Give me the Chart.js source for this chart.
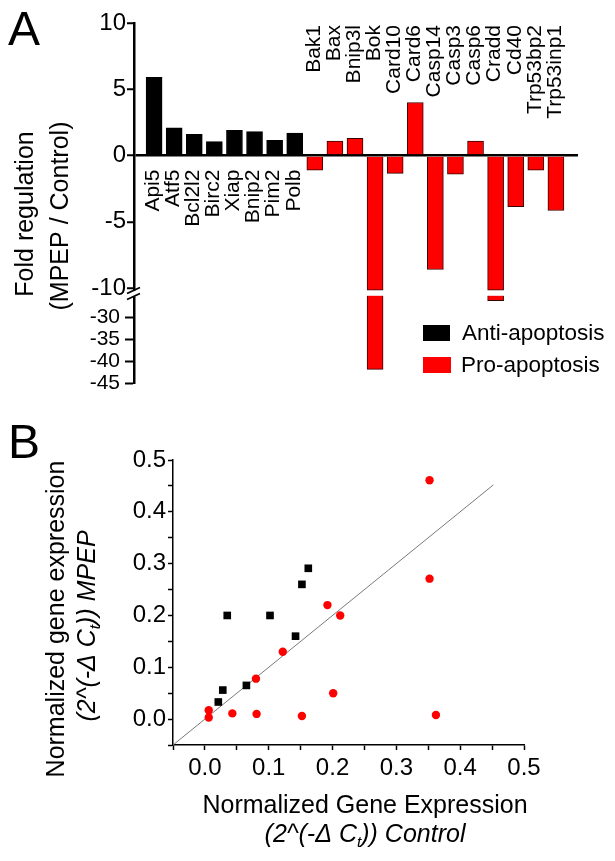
<!DOCTYPE html>
<html>
<head>
<meta charset="utf-8">
<script src="https://cdn.jsdelivr.net/npm/chart.js@4.4.0/dist/chart.umd.min.js"></script>
<style>
    html, body { margin: 0; padding: 0; background: #fff; }
    #wrapA { position: absolute; left: 0; top: 0;     width: 615px; height: 420px; }
    #wrapB { position: absolute; left: 0; top: 420px; width: 615px; height: 441px; }
</style>
</head>
<body>
<div id="wrapA"><canvas id="chartA"></canvas></div>
<div id="wrapB"><canvas id="chartB"></canvas></div>
<script>
// === DATA ===
const antiGenes = ['Api5', 'Atf5', 'Bcl2l2', 'Birc2', 'Xiap', 'Bnip2', 'Pim2', 'Polb'];
const antiFold  = [5.9, 2.1, 1.6, 1.05, 1.9, 1.8, 1.15, 1.7];
const proGenes  = ['Bak1', 'Bax', 'Bnip3l', 'Bok', 'Card10', 'Card6', 'Casp14', 'Casp3', 'Casp6', 'Cradd', 'Cd40', 'Trp53bp2', 'Trp53inp1'];
const proFold   = [-1.1, 1.1, 1.3, -41.9, -1.35, 4.0, -8.6, -1.4, 1.1, -26.2, -3.85, -1.1, -4.15];

const upperTicks = [10, 5, 0, -5, -10];
const lowerTicks = [-30, -35, -40, -45];

const antiControl = [0.021, 0.028, 0.035, 0.065, 0.102, 0.142, 0.152, 0.162];
const antiMpep    = [0.033, 0.056, 0.200, 0.065, 0.200, 0.160, 0.260, 0.291];
const proControl  = [0.006, 0.006, 0.043, 0.081, 0.152, 0.080, 0.122, 0.192, 0.212, 0.201, 0.352, 0.352, 0.362];
const proMpep     = [0.017, 0.003, 0.011, 0.010, 0.006, 0.078, 0.130, 0.220, 0.200, 0.050, 0.461, 0.271, 0.008];
const identityLine = [-0.05, 0.452];

const scatterMajor = [0.0, 0.1, 0.2, 0.3, 0.4, 0.5];
const scatterMinor = [-0.05, 0.05, 0.15, 0.25, 0.35, 0.45];

// broken axis: upper segment floor, lower segment ceiling
const BREAK_UPPER = -10.15;
const BREAK_LOWER = -25;

const FONT  = "'Liberation Sans', Arial, sans-serif";
const BLACK = '#000000';
const RED   = '#ff0000';

Chart.defaults.font.family = FONT;
Chart.defaults.color = BLACK;

const allGenes = antiGenes.concat(proGenes);

// === HELPERS ===
function drawRotated(ctx, text, x, y, align) {
    ctx.save();
    ctx.translate(x, y);
    ctx.rotate(-Math.PI / 2);
    ctx.textAlign = align || 'center';
    ctx.fillText(text, 0, 0);
    ctx.restore();
}

// text with a subscript part, all italic
function drawRich(ctx, parts, cx, cy, size, rotate) {
    const fontFor = p => `italic ${p.sub ? size * 0.62 : size}px ${FONT}`;
    ctx.save();
    ctx.translate(cx, cy);
    if (rotate) ctx.rotate(-Math.PI / 2);
    ctx.textAlign = 'left';
    ctx.textBaseline = 'middle';
    let total = 0;
    parts.forEach(p => { ctx.font = fontFor(p); total += ctx.measureText(p.t).width; });
    let pos = -total / 2;
    parts.forEach(p => {
        ctx.font = fontFor(p);
        ctx.fillText(p.t, pos, p.sub ? size * 0.32 : 0);
        pos += ctx.measureText(p.t).width;
    });
    ctx.restore();
}

// === PANEL A ===
const panelAExtras = {
    id: 'panelAExtras',
    afterDraw(chart) {
        const { ctx, chartArea, scales: { x, y, y2 } } = chart;
        ctx.save();
        ctx.fillStyle = BLACK;

        ctx.font = `48px ${FONT}`;
        ctx.textAlign = 'left';
        ctx.textBaseline = 'alphabetic';
        ctx.fillText('A', 8, 45);

        // gene names
        ctx.font = `21px ${FONT}`;
        ctx.textBaseline = 'middle';
        const zeroY = y.getPixelForValue(0);
        allGenes.forEach((name, i) => {
            const top = i < antiGenes.length ? zeroY + 14 : chartArea.top + 2;
            drawRotated(ctx, name, x.getPixelForValue(i) - 1, top, 'right');
        });

        // y title
        ctx.font = `25px ${FONT}`;
        drawRotated(ctx, 'Fold regulation', 26, 214);
        drawRotated(ctx, '(MPEP / Control)', 61, 216);

        // axis break
        const left = chartArea.left;
        const gapTop = y2.top - 5;
        const gapBot = y2.top + 1;
        ctx.fillStyle = '#fff';
        ctx.fillRect(left - 3, gapTop, 6, gapBot - gapTop);
        ctx.strokeStyle = BLACK;
        ctx.lineWidth = 1.8;
        ctx.beginPath();
        ctx.moveTo(left - 7, gapTop + 3); ctx.lineTo(left + 6, gapTop - 3);
        ctx.moveTo(left - 7, gapBot + 3); ctx.lineTo(left + 6, gapBot - 3);
        ctx.stroke();

        // legend
        ctx.fillStyle = BLACK;
        ctx.fillRect(423, 325, 27, 16);
        ctx.fillStyle = RED;
        ctx.fillRect(423, 357, 28, 16);
        ctx.fillStyle = BLACK;
        ctx.font = `22.5px ${FONT}`;
        ctx.textAlign = 'left';
        ctx.fillText('Anti-apoptosis', 462, 334);
        ctx.fillText('Pro-apoptosis', 461, 366);
        ctx.restore();
    },
};

const barBase = {
    type: 'bar',
    barThickness: 16,
    grouped: false,
    borderWidth: 1,
};

new Chart(document.getElementById('chartA').getContext('2d'), {
    type: 'bar',
    data: {
        datasets: [
            {
                ...barBase,
                label: 'Anti-apoptosis',
                data: antiFold.map((v, i) => ({ x: i, y: v })),
                backgroundColor: BLACK,
                borderColor: BLACK,
                yAxisID: 'y',
            },
            {
                ...barBase,
                label: 'Pro-apoptosis',
                data: proFold.map((v, i) => ({ x: antiGenes.length + i, y: Math.max(v, BREAK_UPPER) })),
                backgroundColor: RED,
                borderColor: '#3a0000',
                yAxisID: 'y',
            },
            {
                ...barBase,
                label: 'Pro-apoptosis (below break)',
                data: proFold.map((v, i) => ({ x: antiGenes.length + i, y: v < BREAK_UPPER ? v : null })),
                base: BREAK_LOWER,
                backgroundColor: RED,
                borderColor: '#3a0000',
                yAxisID: 'y2',
            },
        ],
    },
    options: {
        responsive: true,
        maintainAspectRatio: false,
        animation: false,
        layout: { padding: { top: 23, right: 37, bottom: 37, left: 0 } },
        plugins: { legend: { display: false }, tooltip: { enabled: false } },
        scales: {
            x: {
                type: 'linear',
                display: false,
                offset: false,
                grid: { offset: false },
                min: -1,
                max: 21.1,
            },
            y: {
                type: 'linear',
                position: 'left',
                stack: 'fold',
                stackWeight: 272.5,
                weight: 2,
                min: -10.56,
                max: 10,
                z: 1,
                afterBuildTicks: s => { s.ticks = upperTicks.map(v => ({ value: v })); },
                afterFit: s => { s.width = 134; },
                border: { color: BLACK, width: 2.5 },
                grid: {
                    color: c => (c.tick && c.tick.value === 0 ? BLACK : 'rgba(0,0,0,0)'),
                    lineWidth: 2.5,
                    tickColor: BLACK,
                    tickWidth: 2,
                    tickLength: 7,
                },
                ticks: { color: BLACK, font: { size: 24 }, padding: 1, autoSkip: false },
            },
            y2: {
                type: 'linear',
                position: 'left',
                stack: 'fold',
                stackWeight: 87.5,
                weight: 1,
                min: -45,
                max: BREAK_LOWER,
                z: 1,
                afterBuildTicks: s => { s.ticks = lowerTicks.map(v => ({ value: v })); },
                afterFit: s => { s.width = 134; },
                border: { color: BLACK, width: 2.5 },
                grid: {
                    drawOnChartArea: false,
                    tickColor: BLACK,
                    tickWidth: 2,
                    tickLength: 9,
                },
                ticks: { color: BLACK, font: { size: 21 }, padding: 5, autoSkip: false },
            },
        },
    },
    plugins: [panelAExtras],
});

// === PANEL B ===
const panelBExtras = {
    id: 'panelBExtras',
    afterDraw(chart) {
        const { ctx } = chart;
        ctx.save();
        ctx.fillStyle = BLACK;
        ctx.font = `48px ${FONT}`;
        ctx.textAlign = 'left';
        ctx.textBaseline = 'alphabetic';
        ctx.fillText('B', 8, 38);

        ctx.textBaseline = 'middle';
        ctx.font = `25px ${FONT}`;
        drawRotated(ctx, 'Normalized gene expression', 57, 199);
        drawRich(ctx, [{ t: '(2^(-\u0394 C' }, { t: 't', sub: true }, { t: ')) MPEP' }], 88, 206, 25, true);

        ctx.font = `25px ${FONT}`;
        ctx.textAlign = 'center';
        ctx.fillText('Normalized Gene Expression', 365, 386);
        drawRich(ctx, [{ t: '(2^(-\u0394 C' }, { t: 't', sub: true }, { t: ')) Control' }], 365, 415, 25, false);
        ctx.restore();
    },
};

const scatterTickValues = scatterMinor.concat(scatterMajor).sort((a, b) => a - b);
const scatterLabel = v => (scatterMajor.some(m => Math.abs(m - v) < 1e-9) ? v.toFixed(1) : '');

function scatterAxis(extra) {
    return {
        type: 'linear',
        min: -0.05,
        max: 0.5,
        afterBuildTicks: s => { s.ticks = scatterTickValues.map(v => ({ value: v })); },
        border: { color: BLACK, width: 1.5 },
        grid: { drawOnChartArea: false, tickColor: BLACK, tickWidth: 1.5, tickLength: 5 },
        ...extra,
    };
}

new Chart(document.getElementById('chartB').getContext('2d'), {
    type: 'scatter',
    data: {
        datasets: [
            {
                label: 'Anti-apoptosis',
                data: antiControl.map((v, i) => ({ x: v, y: antiMpep[i] })),
                pointStyle: 'rect',
                pointRadius: 5.4,
                backgroundColor: BLACK,
                borderWidth: 0,
                order: 1,
            },
            {
                label: 'Pro-apoptosis',
                data: proControl.map((v, i) => ({ x: v, y: proMpep[i] })),
                pointStyle: 'circle',
                pointRadius: 4.2,
                backgroundColor: RED,
                borderWidth: 0,
                order: 2,
            },
            {
                label: 'y = x',
                data: identityLine.map(v => ({ x: v, y: v })),
                showLine: true,
                pointRadius: 0,
                borderColor: '#7a7a7a',
                borderWidth: 1,
                order: 3,
            },
        ],
    },
    options: {
        responsive: true,
        maintainAspectRatio: false,
        animation: false,
        layout: { padding: { top: 40, right: 91, bottom: 0, left: 0 } },
        plugins: { legend: { display: false }, tooltip: { enabled: false } },
        scales: {
            x: scatterAxis({
                position: 'bottom',
                afterFit: s => { s.height = 116; },
                ticks: { color: BLACK, font: { size: 24 }, padding: 4, autoSkip: false, maxRotation: 0, callback: scatterLabel },
            }),
            y: scatterAxis({
                position: 'left',
                afterFit: s => { s.width = 173; },
                ticks: { color: BLACK, font: { size: 24 }, padding: 2, autoSkip: false, callback: scatterLabel },
            }),
        },
    },
    plugins: [panelBExtras],
});
</script>
</body>
</html>
